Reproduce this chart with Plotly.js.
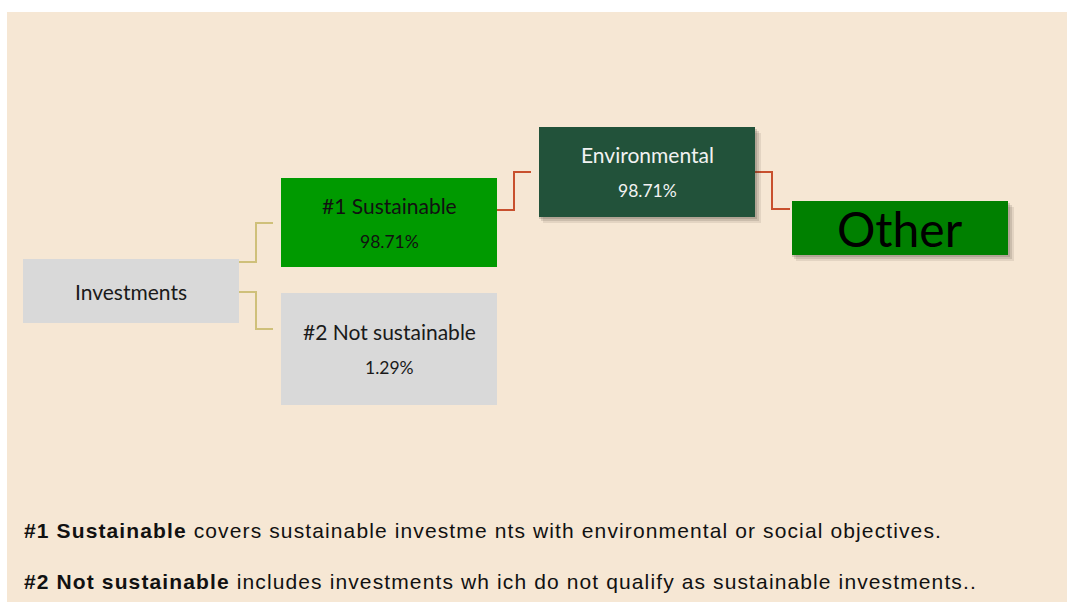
<!DOCTYPE html>
<html>
<head>
<meta charset="utf-8">
<script src="https://cdn.plot.ly/plotly-3.0.1.min.js"></script>
<style>html,body{margin:0;padding:0;background:#fff;}#chart{width:1067px;height:602px;}</style>
</head>
<body>
<div id="chart"></div>
<script>
// ---- data ----
const nodeLabels = ["Investments", "#1 Sustainable", "#2 Not sustainable", "Environmental", "Other"];
const nodeValues = ["", "98.71%", "1.29%", "98.71%", ""];
const nodeParents = [-1, 0, 0, 1, 3];
const footnoteTerms = ["#1 Sustainable", "#2 Not sustainable"];
const footnoteTexts = [
  " covers sustainable investme nts with environmental or social objectives.",
  " includes investments wh ich do not qualify as sustainable investments.."
];

// ---- layout / style (pixel coordinates) ----
const boxes = [
  {x0: 23, x1: 239, y0: 259, y1: 323, fill: "#d9d9d9", color: "#1a1a1a", size: 21, shadow: false},
  {x0: 281, x1: 497, y0: 178, y1: 267, fill: "#009a00", color: "#111", size: 21, shadow: false},
  {x0: 281, x1: 497, y0: 293, y1: 405, fill: "#d9d9d9", color: "#1a1a1a", size: 21, shadow: false},
  {x0: 539, x1: 755, y0: 127, y1: 217, fill: "#22523a", color: "#f2f2f2", size: 21, shadow: true},
  {x0: 792, x1: 1008, y0: 201, y1: 255, fill: "#008000", color: "#000", size: 48, shadow: true}
];
const linkColors = {0: "#cfc07a", 1: "#c8502e", 3: "#c8502e"};
const bg = "#f6e7d4";
const font = "Lato, 'Open Sans', sans-serif";

const shapes = [];
const annotations = [];
shapes.push({type: "rect", xref: "x", yref: "y", x0: 7, x1: 1067, y0: 12, y1: 602, fillcolor: bg, line: {width: 0}, layer: "below"});

// connectors (elbow)
nodeParents.forEach((p, i) => {
  if (p < 0) return;
  const a = boxes[p], b = boxes[i];
  const sibs = nodeParents.map((q, k) => q === p ? k : -1).filter(k => k >= 0);
  let ys;
  if (sibs.length > 1) {
    const idx = sibs.indexOf(i);
    ys = idx === 0 ? a.y0 + 3 : a.y0 + 33;
  } else {
    ys = p === 1 ? 210 : 172;
  }
  let ye;
  if (i === 1) ye = 223; else if (i === 2) ye = 329; else if (i === 3) ye = 172; else ye = 209;
  const xm = a.x1 + 17;
  const xe = b.x0 - (i === 4 ? 2 : 8);
  shapes.push({type: "path", xref: "x", yref: "y",
    path: `M${a.x1},${ys} L${xm},${ys} L${xm},${ye} L${xe},${ye}`,
    line: {color: linkColors[p], width: 2}});
});

// boxes
boxes.forEach((b, i) => {
  if (b.shadow) {
    [[6, 0.10], [4, 0.14], [2, 0.18]].forEach(([o, op]) => {
      shapes.push({type: "rect", xref: "x", yref: "y", x0: b.x0 + o - 2, x1: b.x1 + o, y0: b.y0 + o, y1: b.y1 + o,
        fillcolor: `rgba(60,50,40,${op})`, line: {width: 0}});
    });
  }
  shapes.push({type: "rect", xref: "x", yref: "y", x0: b.x0, x1: b.x1, y0: b.y0, y1: b.y1,
    fillcolor: b.fill, line: {width: 0}});
  const cx = (b.x0 + b.x1) / 2;
  if (nodeValues[i]) {
    annotations.push({x: cx, y: (b.y0 + b.y1) / 2 - 17.5, xref: "x", yref: "y", text: nodeLabels[i], showarrow: false,
      font: {family: font, size: b.size, color: b.color}});
    annotations.push({x: cx, y: (b.y0 + b.y1) / 2 + 18.5, xref: "x", yref: "y", text: nodeValues[i], showarrow: false,
      font: {family: font, size: 17.5, color: b.color}});
  } else {
    annotations.push({x: cx, y: (b.y0 + b.y1) / 2, xref: "x", yref: "y", text: nodeLabels[i], showarrow: false,
      font: {family: font, size: b.size, color: b.color}});
  }
});

// footnotes
footnoteTerms.forEach((t, i) => {
  annotations.push({x: 22, y: 530 + i * 51, xref: "x", yref: "y", xanchor: "left", showarrow: false,
    text: `<span style="letter-spacing:1.12px"><b>${t}</b>${footnoteTexts[i]}</span>`,
    font: {family: "'Liberation Sans', Arial, sans-serif", size: 21, color: "#111"}});
});

const layout = {
  width: 1067, height: 602,
  margin: {l: 0, r: 0, t: 0, b: 0},
  paper_bgcolor: "#ffffff", plot_bgcolor: "rgba(0,0,0,0)",
  xaxis: {range: [0, 1067], visible: false, fixedrange: true},
  yaxis: {range: [602, 0], visible: false, fixedrange: true},
  showlegend: false,
  shapes: shapes,
  annotations: annotations
};
Plotly.newPlot("chart", [], layout, {staticPlot: true, displayModeBar: false});
</script>
</body>
</html>
